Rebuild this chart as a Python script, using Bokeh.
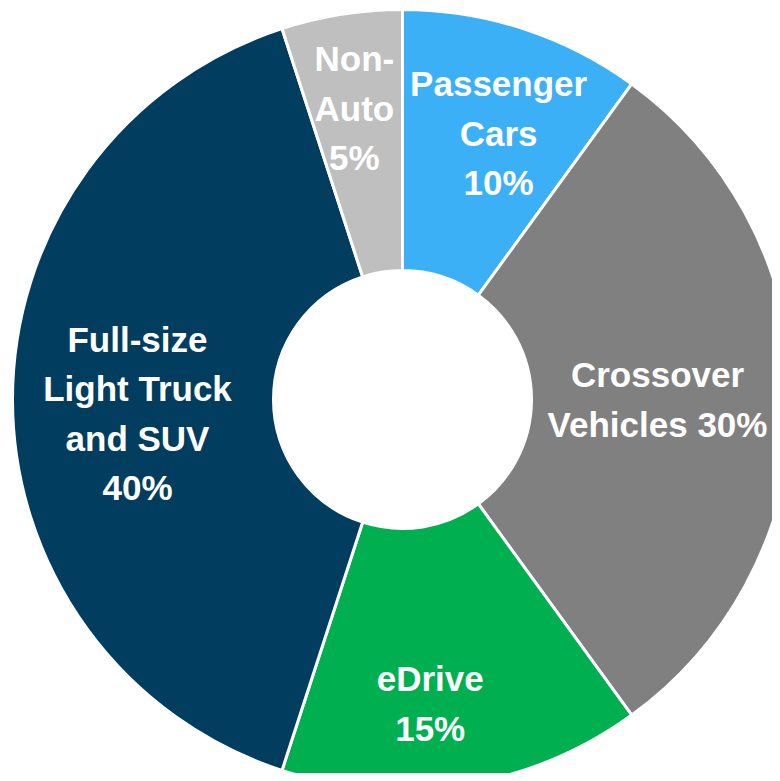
import math
from bokeh.plotting import figure
from bokeh.models import Range1d, ColumnDataSource
from bokeh.core.properties import value
from bokeh.embed import file_html
from bokeh.resources import INLINE

labels = ["Passenger\nCars\n10%", "Crossover\nVehicles 30%", "eDrive\n15%",
          "Full-size\nLight Truck\nand SUV\n40%", "Non-\nAuto\n5%"]
shares = [10, 30, 15, 40, 5]
colors = ["#3CB0F7", "#808080", "#00B050", "#003D5E", "#BFBFBF"]
label_radius = [282, 255, 305, 265, 295]
label_nudge_x = [9, 0, -20, 0, -2]
label_nudge_y = [-2, 0, -3, -14, 0]

W, H = 772, 773
# reference pixel coords -> data (y up)
CX, CY = 402, H - 399
R_OUT, R_IN = 390, 129

total = sum(shares)
starts, ends, lx, ly = [], [], [], []
cum = 0.0
for s, lr, nx, ny in zip(shares, label_radius, label_nudge_x, label_nudge_y):
    a0 = math.pi / 2 - 2 * math.pi * cum / total
    cum += s
    a1 = math.pi / 2 - 2 * math.pi * cum / total
    starts.append(a0)
    ends.append(a1)
    mid = (a0 + a1) / 2
    lx.append(CX + lr * math.cos(mid) + nx)
    ly.append(CY + lr * math.sin(mid) + ny)

src = ColumnDataSource(dict(start=starts, end=ends, color=colors, x=[CX] * 5, y=[CY] * 5,
                            lx=lx, ly=ly, label=labels))

p = figure(width=W, height=H, output_backend="svg", toolbar_location=None,
           x_range=Range1d(0, W), y_range=Range1d(0, H), min_border=0)
p.axis.visible = False
p.grid.visible = False
p.outline_line_color = None
p.background_fill_color = "white"
p.border_fill_color = "white"

p.annular_wedge(x="x", y="y", inner_radius=R_IN, outer_radius=R_OUT,
                start_angle="start", end_angle="end", direction="clock",
                fill_color="color", line_color="white", line_width=3, source=src)

p.text(x="lx", y="ly", text="label", source=src, text_color="white",
       text_font=value("Liberation Sans"), text_font_style="bold",
       text_font_size="35px", text_align="center", text_baseline="middle",
       text_line_height=1.27)

open("out.html", "w").write(file_html(p, INLINE))
